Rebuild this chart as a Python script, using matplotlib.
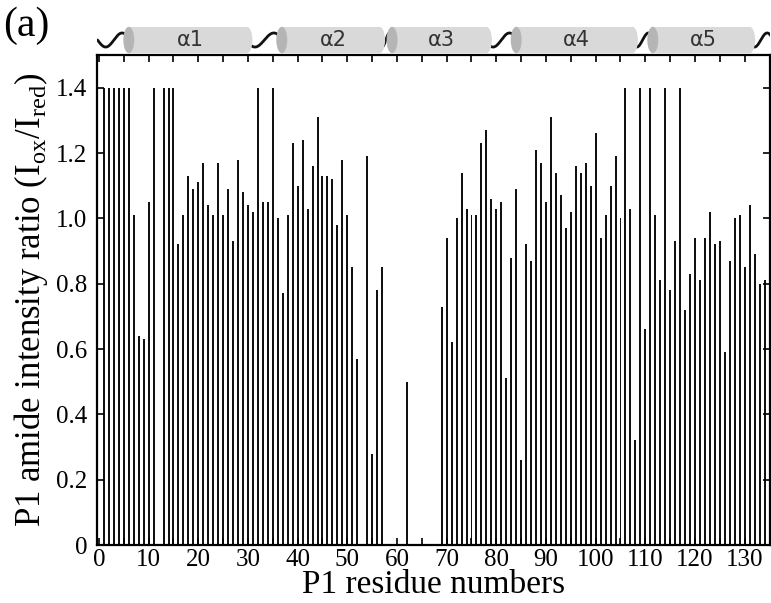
import numpy as np
import matplotlib
matplotlib.use("Agg")
import matplotlib.pyplot as plt
from matplotlib.patches import Rectangle, Ellipse
from matplotlib.ticker import MultipleLocator

plt.rcParams['font.family'] = 'Liberation Serif'
plt.rcParams['mathtext.fontset'] = 'custom'
plt.rcParams['mathtext.rm'] = 'Liberation Serif'

nan = np.nan
# ---- data: intensity ratio per residue (nan = not observed) ----
residues = np.arange(1, 135)
ratio = [
    1.4, 1.4, 1.4, 1.4, 1.4, 1.4, 1.01, 0.64, 0.63, 1.05,          # 1-10
    1.4, nan, 1.4, 1.4, 1.4, 0.92, 1.01, 1.13, 1.09, 1.11,         # 11-20
    1.17, 1.04, 1.01, 1.17, 1.01, 1.09, 0.93, 1.18, 1.08, 1.04,    # 21-30
    1.02, 1.4, 1.05, 1.05, 1.4, 1.00, 0.77, 1.01, 1.23, 1.10,      # 31-40
    1.24, 1.03, 1.16, 1.31, 1.13, 1.13, 1.12, 0.98, 1.18, 1.01,    # 41-50
    0.85, 0.57, nan, 1.19, 0.28, 0.78, 0.85, nan, nan, nan,         # 51-60
    nan, 0.50, nan, nan, nan, nan, nan, nan, 0.73, 0.94,            # 61-70
    0.62, 1.00, 1.14, 1.03, 1.01, 1.01, 1.23, 1.27, 1.06, 1.03,    # 71-80
    1.05, 0.51, 0.88, 1.09, 0.26, 0.92, 0.87, 1.21, 1.17, 1.05,    # 81-90
    1.31, 1.14, 1.07, 0.97, 1.02, 1.16, 1.14, 1.17, 1.10, 1.26,    # 91-100
    0.94, 1.01, 1.10, 1.19, 1.00, 1.4, 1.03, 0.32, 1.4, 0.66,      # 101-110
    1.4, 1.01, 0.81, 1.4, 0.78, 0.93, 1.4, 0.72, 0.83, 0.94,       # 111-120
    0.81, 0.94, 1.02, 0.92, 0.93, 0.59, 0.87, 1.00, 1.01, 0.85,    # 121-130
    1.04, 0.89, 0.80, 0.81,                                         # 131-134
]
ratio = np.array(ratio)
ok = ~np.isnan(ratio)

# secondary structure (helix start, end in residues)
helix_names = ['α1', 'α2', 'α3', 'α4', 'α5']
helix_start = [6.0, 36.8, 59.0, 84.0, 111.5]
helix_end = [29.8, 56.5, 78.0, 107.4, 131.0]

W, H = 771, 603
fig = plt.figure(figsize=(W / 100, H / 100), dpi=100)
xlim = (-0.4, 135.1)

# ---- main bar chart ----
ax = fig.add_axes([97 / W, 1 - 545 / H, (770 - 97) / W, (545 - 55) / H])
ax.bar(residues[ok], ratio[ok], width=0.4, color='#111111', linewidth=0)
ax.set_xlim(*xlim)
ax.set_ylim(0, 1.5)
ax.xaxis.set_major_locator(MultipleLocator(10))
ax.xaxis.set_minor_locator(MultipleLocator(5))
ax.set_yticks(np.arange(0, 1.41, 0.2))
ax.set_yticklabels(['0'] + [f'{v:.1f}' for v in np.arange(0.2, 1.41, 0.2)])
ax.tick_params(which='both', direction='in', top=True, right=True,
               length=5, width=1.2, labelsize=18, pad=3)
ax.tick_params(axis='y', pad=7)
for s in ax.spines.values():
    s.set_linewidth(1.6)
ax.set_ylabel(r'P1 amide intensity ratio (I$_{\rm ox}$/I$_{\rm red}$)',
              fontsize=25, labelpad=4)
# x label placed by hand so it stays inside the canvas
fig.text((97 + 770) / 2 / W, 1 - 593 / H, 'P1 residue numbers',
         fontsize=24, ha='center', va='baseline')

fig.text(3 / W, 1 - 26 / H, '(a)', fontsize=30, va='center', ha='left')

# ---- helix cartoon ----
hx = fig.add_axes([97 / W, 1 - 62 / H, (770 - 97) / W, 44 / H])
hx.set_xlim(*xlim)
hx.set_ylim(0, 1)
hx.axis('off')

edges = [0.0] + [v for pair in zip(helix_start, helix_end) for v in pair] + [135.5]
for a, b in zip(edges[0::2], edges[1::2]):
    xs = np.linspace(a - 0.3, b + 0.3, 200)
    n_per = max(1.0, round((b - a) / 5.5))
    yy = 0.5 - 0.16 * np.sin(2 * np.pi * n_per * (xs - xs[0]) / (xs[-1] - xs[0]))
    hx.plot(xs, yy, color='#111111', lw=2.0, zorder=1, solid_capstyle='round')

for name, a, b in zip(helix_names, helix_start, helix_end):
    hx.add_patch(Rectangle((a, 0.2), b - a, 0.6, fc='#d9d9d9', ec='none', zorder=2))
    hx.add_patch(Ellipse((b, 0.5), 2.2, 0.6, fc='#d9d9d9', ec='none', zorder=2))
    hx.add_patch(Ellipse((a, 0.5), 2.2, 0.6, fc='#b5b5b5', ec='none', zorder=3))
    hx.text((a + b) / 2 + 0.5, 0.5, name, ha='center', va='center',
            fontsize=15, color='#333333', family='DejaVu Sans', zorder=4)

fig.savefig('out.png', dpi=100)
